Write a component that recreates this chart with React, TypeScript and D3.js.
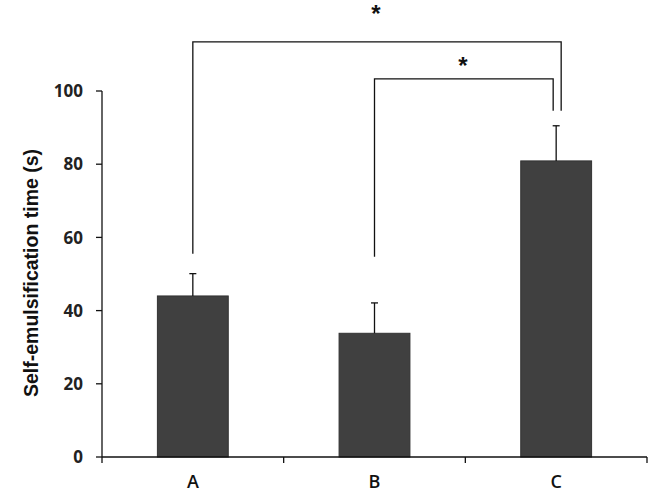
import React from 'react';
import { scaleBand, scaleLinear } from 'd3';

const categories = ['A', 'B', 'C'];
const means = [44, 33.8, 80.9];
const errors = [6.1, 8.3, 9.6];
const yTicks = [0, 20, 40, 60, 80, 100];

// significance brackets: from/to category, bracket level, leg bottoms (in data units)
const brackets = [
  { from: 'A', to: 'C', level: 113.4, leftEnd: 55.5, rightEnd: 94.6, rightShift: 5, labelGap: 19.5, label: '*' },
  { from: 'B', to: 'C', level: 103.3, leftEnd: 54.7, rightEnd: 94.6, rightShift: -3, labelGap: 5, label: '*' },
];

const width = 650;
const height = 494;
const margin = { top: 91, left: 102, right: 3, bottom: 37 };
const innerWidth = width - margin.left - margin.right;
const innerHeight = height - margin.top - margin.bottom;

const App = () => {
  const xScale = scaleBand().domain(categories).range([0, innerWidth]);
  const yScale = scaleLinear().domain([0, 100]).range([innerHeight, 0]);
  const bw = xScale.bandwidth();
  const barW = bw * 0.39;
  const cx = (c: string) => xScale(c)! + bw / 2;

  return (
    <svg width={width} height={height} style={{ position: 'absolute', left: 0, top: 0, background: '#fff' }}>
      <g transform={`translate(${margin.left}, ${margin.top})`}>
        {/* bars */}
        {categories.map((c, i) => (
          <rect key={c} x={cx(c) - barW / 2} y={yScale(means[i])} width={barW}
            height={innerHeight - yScale(means[i])} fill="#404040" stroke="#333" strokeWidth={1} />
        ))}
        {/* error bars */}
        {categories.map((c, i) => (
          <g key={c} stroke="#111" strokeWidth={1.3}>
            <line x1={cx(c)} x2={cx(c)} y1={yScale(means[i])} y2={yScale(means[i] + errors[i])} />
            <line x1={cx(c) - 3.5} x2={cx(c) + 3.5} y1={yScale(means[i] + errors[i])} y2={yScale(means[i] + errors[i])} />
          </g>
        ))}
        {/* y axis */}
        <line x1={0} x2={0} y1={0} y2={innerHeight + 6} stroke="#111" strokeWidth={1.3} />
        {yTicks.map((t) => (
          <g key={t} transform={`translate(0, ${yScale(t)})`}>
            <line x1={-6} x2={0} stroke="#111" strokeWidth={1.3} />
            <text x={-19} dy="0.36em" textAnchor="end" fontFamily="'Open Sans', sans-serif"
              fontWeight={700} fontSize={17} fill="#222">{t}</text>
          </g>
        ))}
        {/* x axis */}
        <line x1={0} x2={innerWidth} y1={innerHeight} y2={innerHeight} stroke="#111" strokeWidth={1.3} />
        {categories.map((c) => (
          <g key={c}>
            <line x1={xScale(c)! + bw} x2={xScale(c)! + bw} y1={innerHeight} y2={innerHeight + 6} stroke="#111" strokeWidth={1.3} />
            <text x={cx(c)} y={innerHeight + 31} textAnchor="middle" fontFamily="'Open Sans', sans-serif"
              fontWeight={600} fontSize={18} fill="#111">{c}</text>
          </g>
        ))}
        {/* brackets */}
        {brackets.map((b, i) => {
          const x1 = cx(b.from);
          const x2 = cx(b.to) + b.rightShift;
          const y = yScale(b.level);
          return (
            <g key={i}>
              <path d={`M${x1},${yScale(b.leftEnd)}V${y}H${x2}V${yScale(b.rightEnd)}`}
                fill="none" stroke="#111" strokeWidth={1.3} />
              <text x={(x1 + x2) / 2 - 1} y={y - b.labelGap} textAnchor="middle" fontFamily="'Liberation Sans', Arial, sans-serif"
                fontWeight="bold" fontSize={24} fill="#111">{b.label}</text>
            </g>
          );
        })}
      </g>
      <text transform={`translate(38, 273) rotate(-90)`} textAnchor="middle"
        fontFamily="'Liberation Sans', Arial, sans-serif" fontWeight="bold" fontSize={19.5} fill="#111">
        Self-emulsification time (s)
      </text>
    </svg>
  );
};

export default App;
